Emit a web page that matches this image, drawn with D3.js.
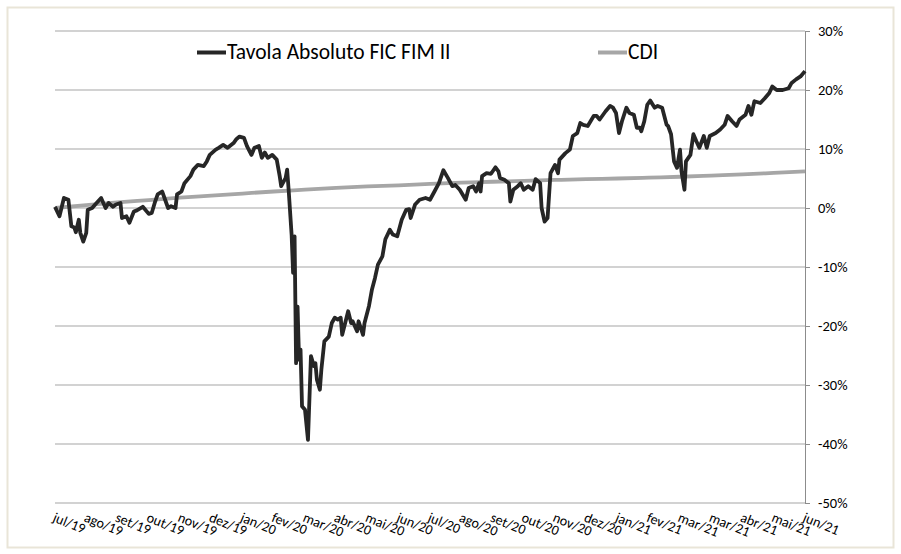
<script src="https://d3js.org/d3.v7.min.js"></script>
<style>
  body { margin: 0; background: #fff; }
  text { font-family: Carlito, Calibri, Lato, sans-serif; fill: #000; }
</style>
<svg id="vis" width="901" height="554"></svg>
<script>
// trading-day index (0 = jul/19) and cumulative return (%) of the fund
var dias = [0,3,6,9,11,13,14,16,17,19,21,22,25,27,31,34,36,39,41,44,45,48,50,53,55,59,63,65,67,69,72,74,76,78,81,82,85,87,91,93,96,100,102,104,108,110,113,116,120,122,124,127,129,132,134,137,139,141,143,146,149,151,152,155,156,157,159,160,161,162,163,164,165,166,168,170,172,174,175,176,178,179,181,184,186,188,190,192,193,195,197,199,200,203,204,207,208,211,213,215,217,220,222,225,227,230,233,236,238,239,242,245,249,252,255,258,261,264,267,269,272,276,278,281,283,285,286,287,290,293,296,298,299,302,305,306,308,311,313,315,318,321,323,326,327,329,331,333,336,338,339,343,346,348,351,353,355,358,362,364,366,370,373,375,377,379,381,384,386,389,391,393,394,396,398,400,403,405,408,411,412,414,416,418,420,421,423,424,427,429,431,433,436,438,440,444,447,450,452,455,458,460,464,466,468,470,474,477,480,482,485,489,493,495,498,501,504];
var fundo = [0.2,-1.4,1.7,1.4,-3.1,-3.3,-4.1,-2.0,-4.2,-5.7,-4.2,-0.3,0.0,0.6,1.7,0.0,0.85,0.2,0.6,0.85,-1.7,-1.4,-2.5,-0.6,-0.4,0.2,-1.0,-0.85,0.85,2.3,2.8,1.4,0.0,0.3,0.0,2.3,2.8,4.2,5.4,6.5,7.3,7.1,7.9,9.0,9.9,10.2,10.7,10.2,11.0,11.7,12.1,11.9,10.5,9.0,10.2,10.5,8.5,9.4,8.5,9.0,8.2,5.4,3.7,5.1,6.5,3.1,-4.5,-11.0,-4.8,-26.3,-16.7,-25.7,-24.0,-33.6,-34.2,-39.3,-25.1,-26.8,-26.3,-29.1,-30.8,-27.4,-22.6,-21.8,-19.5,-18.6,-18.9,-18.6,-21.5,-19.5,-17.5,-19.5,-19.2,-20.9,-19.2,-21.5,-19.5,-16.6,-13.8,-11.9,-9.6,-8.2,-5.3,-3.7,-4.5,-4.8,-2.0,-0.3,-0.2,-1.7,0.6,1.4,1.7,1.4,2.8,4.2,6.4,5.1,3.7,3.9,3.1,1.4,3.4,3.7,2.8,4.2,2.8,5.4,5.9,5.8,6.9,6.2,5.1,4.8,4.2,1.1,3.1,3.7,4.2,3.1,3.7,3.1,4.9,4.2,0.0,-2.3,-1.7,5.9,7.3,5.9,8.2,9.3,9.9,12.2,12.7,14.4,14.1,13.9,15.6,15.6,15.0,16.4,17.3,17.0,16.1,12.7,14.7,17.0,16.1,15.8,13.6,13.6,13.0,14.7,17.5,18.2,17.0,17.3,17.0,14.1,13.9,12.5,7.9,6.8,9.9,6.2,3.1,7.9,9.0,12.5,11.3,10.2,12.2,10.2,12.2,12.7,13.3,14.1,15.6,14.7,13.9,15.0,15.8,17.3,15.8,18.1,17.8,18.6,19.5,20.6,20.0,20.0,20.3,21.2,21.8,22.3,23.2];

// month labels, one every 21 trading days
var meses = ["jul/19","ago/19","set/19","out/19","nov/19","dez/19","jan/20","fev/20","mar/20","abr/20","mai/20","jun/20","jul/20","ago/20","set/20","out/20","nov/20","dez/20","jan/21","fev/21","mar/21","mar/21","abr/21","mai/21","jun/21"];
// CDI cumulative (%) at each month label
var cdi = [0,0.5,0.95,1.35,1.75,2.1,2.45,2.8,3.1,3.4,3.65,3.85,4.1,4.3,4.45,4.6,4.75,4.9,5.0,5.15,5.3,5.5,5.7,5.95,6.2];

var yTicks = [30,20,10,0,-10,-20,-30,-40,-50];
var passo = 21;

var svg = d3.select("#vis");

// outer frame
svg.append("rect")
  .attr("x", 7.5).attr("y", 7.5)
  .attr("width", 886).attr("height", 540)
  .attr("fill", "none")
  .attr("stroke", "#e9e5d8")
  .attr("stroke-width", 2);

var x = d3.scaleLinear().domain([0, 504]).range([55, 805]);
var y = d3.scaleLinear().domain([-50, 30]).range([503, 31]);

// grid lines
svg.append("g").selectAll("line")
  .data(yTicks)
  .enter().append("line")
    .attr("x1", 55).attr("x2", 805)
    .attr("y1", function(d) { return y(d); })
    .attr("y2", function(d) { return y(d); })
    .attr("stroke", "#a6a6a6")
    .attr("stroke-width", 1.2);

// right axis
var eixo = svg.append("g")
  .attr("transform", "translate(805,0)")
  .call(d3.axisRight(y).tickValues(yTicks).tickSize(5).tickSizeOuter(0).tickPadding(8)
    .tickFormat(function(d) { return d + "%"; }));
eixo.select(".domain").attr("stroke", "#8c8c8c");
eixo.selectAll(".tick line").attr("stroke", "#8c8c8c");
eixo.selectAll(".tick text")
  .style("font-family", "Carlito, Calibri, Lato, sans-serif")
  .style("font-size", "14.5px")
  .attr("fill", "#000");

// month labels
svg.append("g").selectAll("text")
  .data(meses)
  .enter().append("text")
    .attr("transform", function(d, i) {
      return "translate(" + (x(i * passo) - 3) + ",521) rotate(22)";
    })
    .style("font-size", "14px")
    .text(function(d) { return d; });

// CDI line
var linhaCdi = d3.line()
  .x(function(d, i) { return x(i * passo); })
  .y(function(d) { return y(d); })
  .curve(d3.curveMonotoneX);

svg.append("path")
  .datum(cdi)
  .attr("fill", "none")
  .attr("stroke", "#a6a6a6")
  .attr("stroke-width", 3.8)
  .attr("d", linhaCdi);

// fund line
var linhaFundo = d3.line()
  .x(function(d, i) { return x(dias[i]); })
  .y(function(d) { return y(d); });

svg.append("path")
  .datum(fundo)
  .attr("fill", "none")
  .attr("stroke", "#262626")
  .attr("stroke-width", 3.8)
  .attr("stroke-linejoin", "round")
  .attr("d", linhaFundo);

// legend
var legenda = [
  { nome: "Tavola Absoluto FIC FIM II", cor: "#262626", x0: 197 },
  { nome: "CDI", cor: "#a6a6a6", x0: 598 }
];
var leg = svg.append("g").selectAll("g")
  .data(legenda)
  .enter().append("g")
    .attr("transform", function(d) { return "translate(" + d.x0 + ",52.5)"; });
leg.append("line")
  .attr("x1", 0).attr("x2", 29)
  .attr("stroke", function(d) { return d.cor; })
  .attr("stroke-width", 4);
leg.append("text")
  .attr("x", 30).attr("y", 6.5)
  .style("font-size", "21.5px")
  .text(function(d) { return d.nome; });
</script>
